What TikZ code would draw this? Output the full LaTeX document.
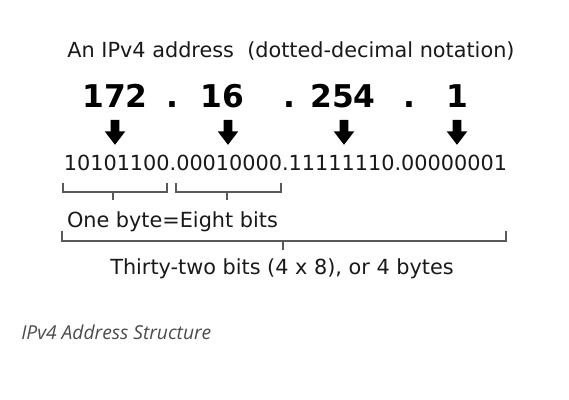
\documentclass[tikz,border=0pt]{standalone}
\usepackage{fontspec}
\setmainfont{DejaVu Sans}
\newfontfamily\capfont{Open Sans}
\usetikzlibrary{shapes.arrows}
\usetikzlibrary{positioning}

\begin{document}
\begin{tikzpicture}[x=0.75pt,y=-0.75pt]
  % some styles
  \tikzset{
    txt/.style={
      inner sep=0pt,
      outer sep=0pt,
      text=black!90,
      font=\fontsize{15.6}{18}\selectfont
    },
    octet/.style={txt,font=\fontsize{23.5}{28}\selectfont\bfseries,text=black},
    downarrow/.style={
      single arrow,
      single arrow head extend=4.5pt,
      single arrow head indent=0pt,
      single arrow tip angle=75,
      minimum height=18.75pt,
      minimum width=15pt,
      inner sep=3pt,
      rotate=-90,
      fill=black,
      draw=none
    }
  }
 \tikzset{brace/.style={draw=black!65,line width=1pt}}
\useasboundingbox (0,0) rectangle (569,400);

\node[txt,anchor=base] (title) at (291,57) {An IPv4 address\ \ (dotted-decimal notation)};

\foreach \x/\n [count=\i] in {115/172,222/16,343/254,457/1} {
    \node[octet,anchor=base] (oct\i) at (\x,107) {\n};
  }
\foreach \x [count=\i] in {172,289,409} {
    \node[octet,anchor=base] (dot\i) at (\x,107) {.};
  }
\foreach \x [count=\i] in {115,228,344,457} {
    \node[downarrow] (arr\i) at (\x,129.5) {};
  }

\node[txt,anchor=base] (bits) at (285.5,170) {10101100.00010000.11111110.00000001};

% one byte brackets
\foreach \a/\b/\t [count=\i] in {63/167/113,176/281/227} {
    \draw[brace] (\a,183) -- (\a,192) -- (\b,192) -- (\b,183);
    \draw[brace] (\t,192) -- (\t,200);
  }
\node[txt,anchor=base west] (byte) at (67,227) {One byte=Eight bits};

% all 32 bits
\draw[brace] (62,231) -- (62,241) -- (506,241) -- (506,231);
\draw[brace] (283,241) -- (283,250);
\node[txt,anchor=base] (total) at (282,274) {Thirty-two bits (4 x 8), or 4 bytes};

\node[inner sep=0pt,anchor=base west,text=black!70,font=\capfont\itshape\fontsize{14.4}{17}\selectfont] (caption) at (21,339) {IPv4 Address Structure};

\end{tikzpicture}
\end{document}
